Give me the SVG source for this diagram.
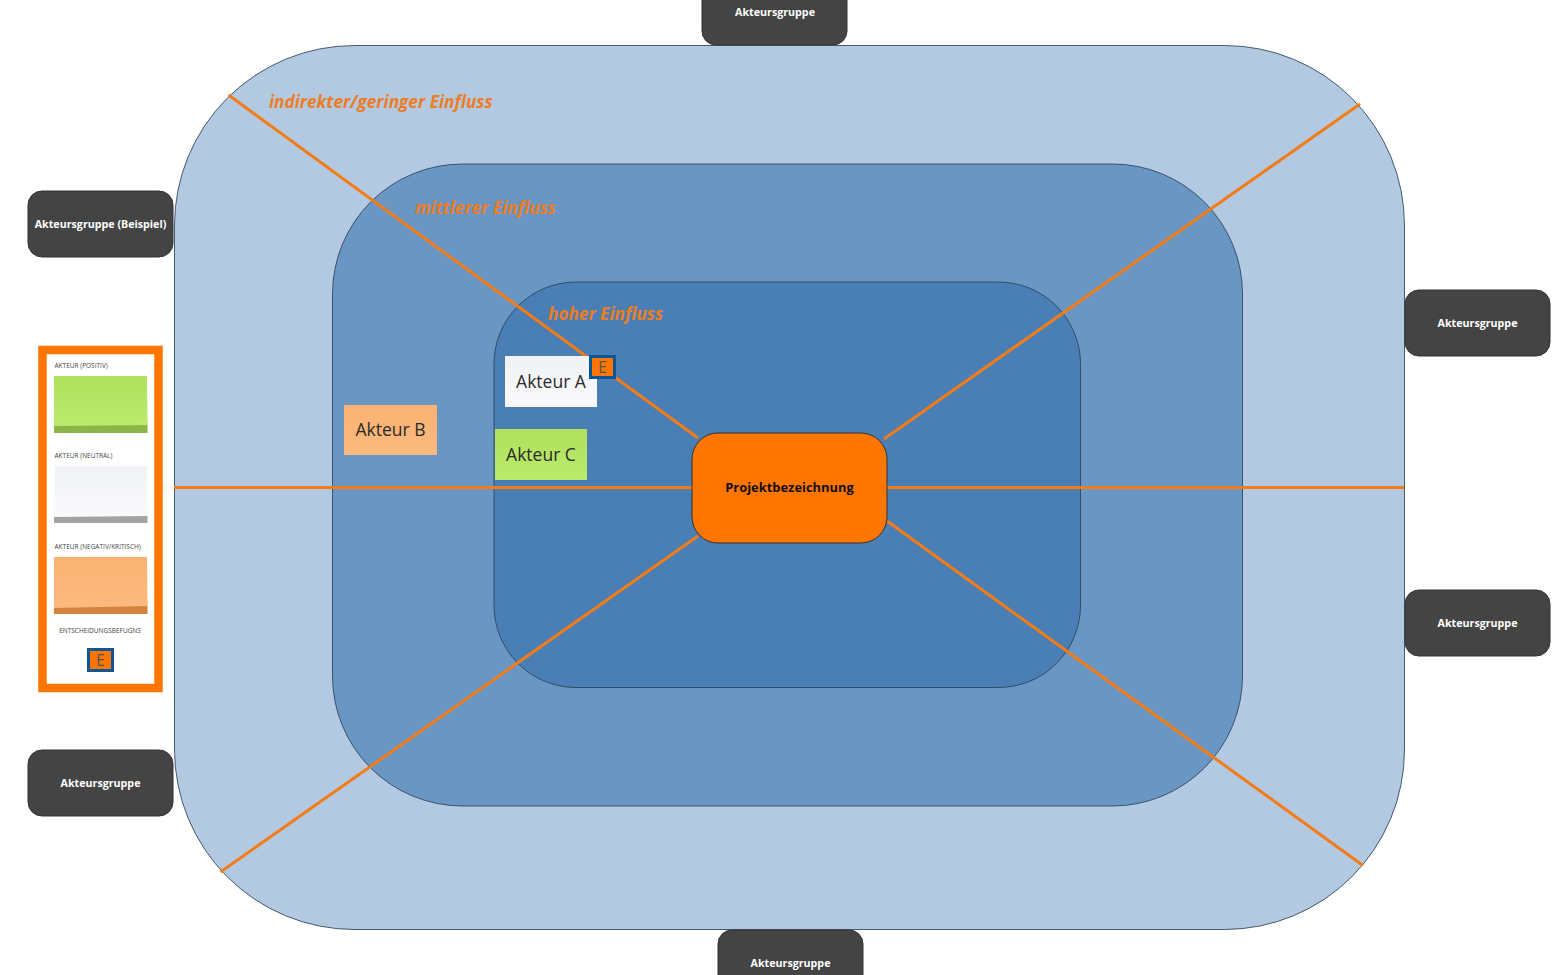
<svg xmlns="http://www.w3.org/2000/svg" width="1564" height="975" viewBox="0 0 1564 975">
<defs>
<style>
text{font-family:"Open Sans","Noto Sans","DejaVu Sans",sans-serif}
.ring{stroke:#2b4258;stroke-width:1;stroke-opacity:.85}
.group rect{fill:#444;stroke:#333;stroke-width:1}
.group text{fill:#fff;font-size:10.700px;font-weight:700;text-anchor:middle}
.zone{fill:#ed7d24;font-size:17.200px;font-weight:700;font-style:italic}
.conn line{stroke:#f37c17;stroke-width:3;fill:none}
.sticky text{font-size:17.500px;fill:#2a2a2a;text-anchor:middle}
.legend-t{font-size:6.500px;fill:#444}
.ebox{fill:#fe7500;stroke:#0b5796;stroke-width:3}
.etxt{font-size:16px;fill:#555;text-anchor:middle}
</style>
<linearGradient id="gG" x1="0" y1="0" x2="0" y2="1"><stop offset="0" stop-color="#b0e05c"/><stop offset="1" stop-color="#bbeb6c"/></linearGradient>
<linearGradient id="gW" x1="0" y1="0" x2="0" y2="1"><stop offset="0" stop-color="#f0f2f5"/><stop offset="1" stop-color="#fafafc"/></linearGradient>
<linearGradient id="gO" x1="0" y1="0" x2="0" y2="1"><stop offset="0" stop-color="#fab271"/><stop offset="1" stop-color="#fcb97e"/></linearGradient>
</defs>
<rect width="1564" height="975" fill="#fff"/>
<g id="ring-outer"><rect class="ring" x="174.500" y="45.500" width="1230" height="884" rx="180" ry="180" fill="#b3c9e1"/></g>
<g id="ring-middle"><rect class="ring" x="332.500" y="164" width="910" height="642" rx="130" ry="130" fill="#6a96c3"/></g>
<g id="ring-inner"><rect class="ring" x="494" y="282" width="586.500" height="405.500" rx="82" ry="82" fill="#4a7fb5"/></g>
<g id="connectors" class="conn">
<line x1="228.500" y1="95" x2="698" y2="438"/>
<line x1="1360" y1="104" x2="884" y2="439"/>
<line x1="174" y1="487.500" x2="692" y2="487.500"/>
<line x1="887" y1="487.500" x2="1404" y2="487.500"/>
<line x1="220.500" y1="872" x2="698" y2="536"/>
<line x1="1363" y1="865.500" x2="887" y2="521"/>
</g>
<g id="zone-labels">
<text class="zone" x="269" y="108">indirekter/geringer Einfluss</text>
<text class="zone" x="415" y="214">mittlerer Einfluss</text>
<text class="zone" x="548" y="320">hoher Einfluss</text>
</g>
<g id="center"><rect x="692" y="433" width="195" height="110" rx="26" fill="#fe7500" stroke="#333" stroke-width="1"/><text x="789.500" y="492" font-size="12.900" font-weight="700" text-anchor="middle" fill="#111">Projektbezeichnung</text></g>
<g id="group-top" class="group"><rect x="702" y="-22" width="145" height="67" rx="14"/><text x="775" y="16">Akteursgruppe</text></g>
<g id="group-bottom" class="group"><rect x="718" y="930" width="145" height="67" rx="14"/><text x="790.500" y="967">Akteursgruppe</text></g>
<g id="group-left1" class="group"><rect x="28" y="191" width="145" height="66" rx="14"/><text x="100.500" y="228">Akteursgruppe (Beispiel)</text></g>
<g id="group-left2" class="group"><rect x="28" y="750" width="145" height="66" rx="14"/><text x="100.500" y="787">Akteursgruppe</text></g>
<g id="group-right1" class="group"><rect x="1405" y="290" width="145" height="66" rx="14"/><text x="1477.500" y="327">Akteursgruppe</text></g>
<g id="group-right2" class="group"><rect x="1405" y="590" width="145" height="66" rx="14"/><text x="1477.500" y="627">Akteursgruppe</text></g>
<g id="actor-a" class="sticky"><rect x="505" y="356" width="92" height="51" fill="url(#gW)"/><text x="551" y="388">Akteur A</text></g>
<g id="actor-a-flag"><rect class="ebox" x="590.500" y="356.500" width="24" height="21"/><text class="etxt" x="602.500" y="373">E</text></g>
<g id="actor-b" class="sticky"><rect x="344" y="405" width="93" height="50" fill="url(#gO)"/><text x="390.500" y="436">Akteur B</text></g>
<g id="actor-c" class="sticky"><rect x="495" y="429" width="92" height="51" fill="url(#gG)"/><text x="541" y="461">Akteur C</text></g>
<g id="legend">
<rect x="42.500" y="350" width="116" height="338" fill="#fff" stroke="#fe7500" stroke-width="8.500"/>
<text class="legend-t" x="54.500" y="368">AKTEUR (POSITIV)</text>
<rect x="54" y="425" width="93.500" height="8" fill="#8db44a"/>
<path d="M54 376H147L147.500 425L100 425.500L54 426Z" fill="url(#gG)"/>
<path d="M100 425L148 420L147 425Z" fill="#bbeb6c"/>
<text class="legend-t" x="54.500" y="458">AKTEUR (NEUTRAL)</text>
<rect x="54" y="516" width="93.500" height="7" fill="#a3a3a3"/>
<path d="M55 466H147L147.500 516L54 517Z" fill="url(#gW)"/>
<text class="legend-t" x="54.500" y="549">AKTEUR (NEGATIV/KRITISCH)</text>
<rect x="54" y="606" width="93.500" height="8" fill="#d2843f"/>
<path d="M54 557H147L147.500 606L54 608Z" fill="url(#gO)"/>
<path d="M100 606L148 601L147 606Z" fill="#fcb97e"/>
<text class="legend-t" x="100" y="633" text-anchor="middle">ENTSCHEIDUNGSBEFUGNS</text>
<rect class="ebox" x="88.500" y="649.500" width="24" height="21"/><text class="etxt" x="100.500" y="666">E</text>
</g>
</svg>
